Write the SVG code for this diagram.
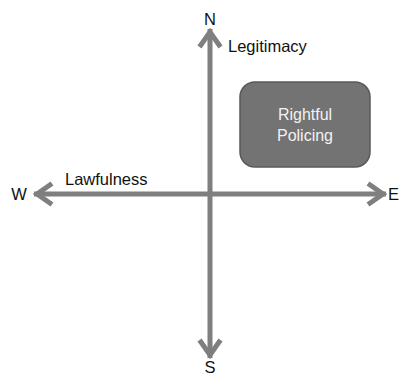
<svg xmlns="http://www.w3.org/2000/svg" width="399" height="377" viewBox="0 0 399 377">
  <style>
    .axis { stroke: #7f7f7f; stroke-width: 5; fill: none; }
    .lbl { font-family: "Liberation Sans", Arial, sans-serif; font-size: 16.5px; fill: #111; }
    .box { fill: #737373; stroke: #595959; stroke-width: 1.5; }
    .boxtxt { font-family: "Liberation Sans", Arial, sans-serif; font-size: 16px; fill: #f2f2f2; text-anchor: middle; }
  </style>
  <defs>
    <marker id="chev" markerUnits="userSpaceOnUse" viewBox="-24 -14 28 28" markerWidth="28" markerHeight="28" refX="0" refY="0" orient="auto-start-reverse">
      <path d="M-18,-10.5 L-3,0 L-18,10.5" fill="none" stroke="#7f7f7f" stroke-width="5" stroke-linejoin="miter"/>
    </marker>
  </defs>
  <g id="connectors">
    <line class="axis" x1="210" y1="358" x2="210" y2="29" marker-start="url(#chev)" marker-end="url(#chev)"/>
    <line class="axis" x1="34" y1="194" x2="386" y2="194" marker-start="url(#chev)" marker-end="url(#chev)"/>
  </g>
  <g id="N"><text class="lbl" x="210" y="25" text-anchor="middle">N</text></g>
  <g id="S"><text class="lbl" x="210" y="373" text-anchor="middle">S</text></g>
  <g id="W"><text class="lbl" x="19" y="200" text-anchor="middle">W</text></g>
  <g id="E"><text class="lbl" x="388" y="200">E</text></g>
  <g id="legitimacy"><text class="lbl" x="228" y="52">Legitimacy</text></g>
  <g id="lawfulness"><text class="lbl" x="65" y="185">Lawfulness</text></g>
  <g id="rightful-policing">
    <rect class="box" x="240" y="82" width="130" height="85" rx="15" ry="15"/>
    <text class="boxtxt" x="305" y="120">Rightful</text>
    <text class="boxtxt" x="305" y="141">Policing</text>
  </g>
</svg>
